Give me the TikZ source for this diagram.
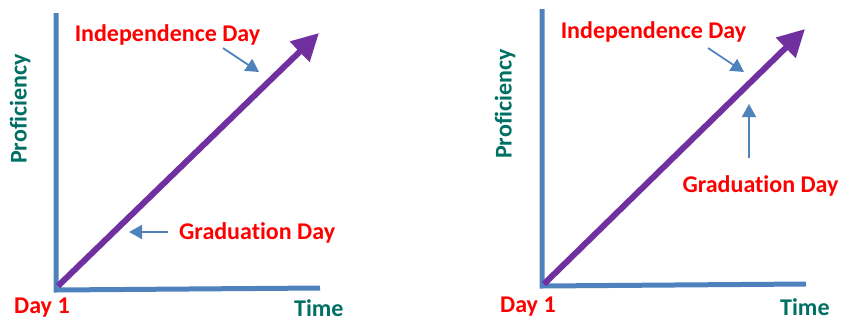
\documentclass[tikz,border=0pt]{standalone}
\usepackage{fontspec}
\setmainfont{Carlito}[Ligatures=NoCommon]
\usetikzlibrary{arrows.meta}
\definecolor{axisblue}{RGB}{79,129,189}
\definecolor{ppurple}{RGB}{112,48,160}
\definecolor{tealc}{RGB}{0,112,100}
\definecolor{redc}{RGB}{255,0,0}
\tikzset{
  axis/.style={draw=axisblue, line width=5pt},
  growth/.style={draw=ppurple, line width=6pt, -{Triangle[length=27pt,width=27pt]}},
  pointer/.style={draw=axisblue, line width=1.8pt, -{Triangle[length=13pt,width=14pt]}},
  redlbl/.style={text=redc, font=\bfseries\fontsize{24}{28}\selectfont, inner sep=0pt},
  teallbl/.style={text=tealc, font=\bfseries\fontsize{24}{28}\selectfont, inner sep=0pt},
}
\begin{document}
\begin{tikzpicture}[x=1pt,y=-1pt]
\useasboundingbox (0,0) rectangle (841,322);
% ---------- left panel ----------
\coordinate (Ltop) at (56,13);
\coordinate (Lright) at (320,288);
\coordinate (Lstart) at (58,286);
\coordinate (Ltip) at (319,33);
\draw[axis] (Ltop) -- (56,290) -- (Lright);
\draw[growth] (Lstart) -- (Ltip);
\node[redlbl] (Lind) at (167.5,35) {Independence Day};
\coordinate (LindA) at (223,48);
\coordinate (LindB) at (259,72);
\draw[pointer] (LindA) -- (LindB);
\node[redlbl, anchor=west] (Lgrad) at (179,233) {Graduation Day};
\coordinate (LgradA) at (168,232);
\coordinate (LgradB) at (129,232);
\draw[pointer] (LgradA) -- (LgradB);
\node[teallbl, rotate=90] (Lprof) at (20,109) {Proficiency};
\node[redlbl, anchor=west] (Lday) at (14,308) {Day 1};
\node[teallbl, anchor=west] (Ltime) at (294,308) {Time};
% ---------- right panel ----------
\coordinate (Rtop) at (542,9);
\coordinate (Rright) at (806,284);
\coordinate (Rstart) at (544,284);
\coordinate (Rtip) at (805,29);
\draw[axis] (Rtop) -- (542,286) -- (Rright);
\draw[growth] (Rstart) -- (Rtip);
\node[redlbl] (Rind) at (653.5,32) {Independence Day};
\coordinate (RindA) at (708,48);
\coordinate (RindB) at (744,72);
\draw[pointer] (RindA) -- (RindB);
\node[redlbl] (Rgrad) at (760.5,186) {Graduation Day};
\coordinate (RgradA) at (749,158);
\coordinate (RgradB) at (749,104);
\draw[pointer] (RgradA) -- (RgradB);
\node[teallbl, rotate=90] (Rprof) at (505,104) {Proficiency};
\node[redlbl, anchor=west] (Rday) at (500,307) {Day 1};
\node[teallbl, anchor=west] (Rtime) at (780,307) {Time};
\end{tikzpicture}
\end{document}
